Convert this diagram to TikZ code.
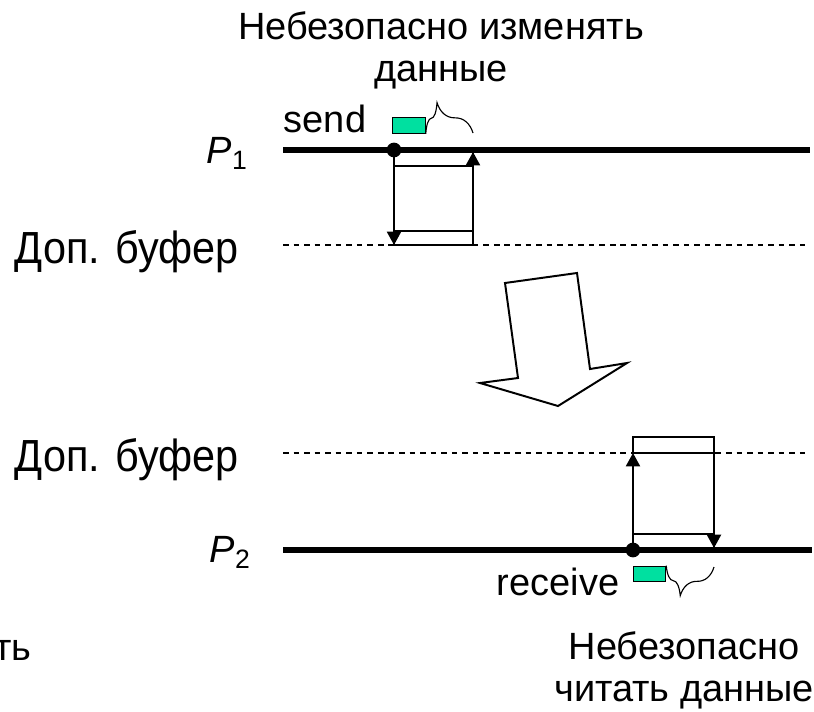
\documentclass[tikz,border=0pt]{standalone}
\usepackage{fontspec}
\setmainfont{Liberation Sans}
\newfontfamily\buffont[FakeStretch=0.92]{Liberation Sans}
\usetikzlibrary{arrows.meta,decorations.pathreplacing}

\definecolor{bufgreen}{HTML}{00E0A0}

\tikzset{
  proc/.style={line width=3.6pt},
  buf/.style={line width=0.8pt, dash pattern=on 4pt off 3.5pt},
  cell/.style={line width=0.8pt},
  msg/.style={line width=1.4pt, -{Triangle[length=9.5pt,width=10pt]}},
  ev/.style={circle, fill, inner sep=0pt, minimum size=10.5pt},
  data/.style={draw, line width=0.8pt, fill=bufgreen, inner sep=0pt,
    minimum width=23pt, minimum height=11pt},
  brc/.style={decorate, line width=0.8pt},
  lbl/.style={font=\fontsize{27}{30}\selectfont, inner sep=0pt},
  buflbl/.style={font=\buffont\fontsize{32}{36}\selectfont, inner sep=0pt}
}

\begin{document}
\begin{tikzpicture}[x=0.025cm, y=-0.025cm]
  \useasboundingbox (0,0) rectangle (814,711);

  % time lines of both processes and their extra buffers
  \coordinate (p1a) at (283,150);  \coordinate (p1b) at (810,150);
  \coordinate (b1a) at (283,245);  \coordinate (b1b) at (810,245);
  \coordinate (b2a) at (283,453);  \coordinate (b2b) at (810,453);
  \coordinate (p2a) at (283,550);  \coordinate (p2b) at (812,550);
  \draw[proc] (p1a) -- (p1b);
  \draw[buf] (b1a) -- (b1b);
  \draw[buf] (b2a) -- (b2b);
  \draw[proc] (p2a) -- (p2b);

  \node[lbl, anchor=base east] (p1lbl) at (248,163) {\textit{P}\textsubscript{1}};
  \node[buflbl, anchor=base east] (b1lbl) at (239,263) {Доп. буфер};
  \node[buflbl, anchor=base east] (b2lbl) at (239,471) {Доп. буфер};
  \node[lbl, anchor=base east] (p2lbl) at (251,562) {\textit{P}\textsubscript{2}};

  % sending side
  \node[lbl, anchor=north, align=center] (warnsnd) at (441,11)
    {Небезопасно изменять\\данные};
  \node[lbl, anchor=base] (sndtxt) at (325,132) {send};
  \node[data] (sndbuf) at (409,125.5) {};
  \coordinate (sndend) at (473,133);
  \draw[brc, decoration={brace, amplitude=22pt, aspect=0.25}]
    (sndbuf.south east) -- (sndend);

  \draw[cell] (394,150) rectangle (473,166);
  \draw[cell] (394,231) rectangle (473,245);
  \node[ev] (snd) at (394,150) {};
  \coordinate (sndlow) at (394,245);
  \coordinate (cpylow) at (473,245);
  \coordinate (cpytop) at (473,152);
  \draw[msg] (snd) -- (sndlow);
  \draw[msg] (cpylow) -- (cpytop);

  % transfer between the two sides
  \draw[line width=1.4pt] (505,283) -- (577,273) -- (590,369) -- (627,363)
    -- (558,406) -- (480,383) -- (518,378) -- cycle;

  % receiving side
  \draw[cell] (633,437) rectangle (714,453);
  \draw[cell] (633,534) rectangle (714,550);
  \node[ev] (rcv) at (633,550) {};
  \coordinate (rcvtop) at (633,453);
  \coordinate (outtop) at (714,453);
  \coordinate (outlow) at (714,548);
  \draw[msg] (rcv) -- (rcvtop);
  \draw[msg] (outtop) -- (outlow);

  \node[lbl, anchor=base] (rcvtxt) at (558,595) {receive};
  \node[data] (rcvbuf) at (649.5,574) {};
  \coordinate (rcvend) at (714,567);
  \draw[brc, decoration={brace, amplitude=21pt, aspect=0.69}]
    (rcvend) -- (rcvbuf.north east);

  \node[lbl, anchor=north, align=center] (warnrcv) at (684,631)
    {Небезопасно\\читать данные};
  \node[lbl, anchor=base east] (lefttxt) at (32,660) {ть};
\end{tikzpicture}
\end{document}
